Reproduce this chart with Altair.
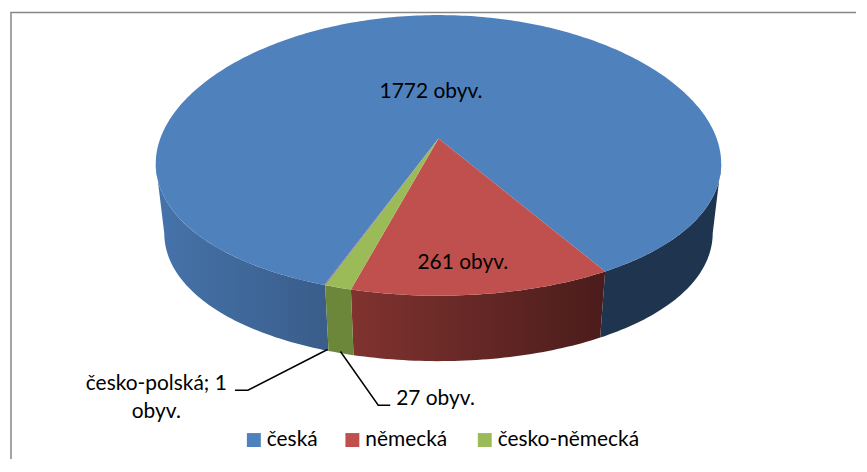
import math
import altair as alt
import pandas as pd

categories = ["česká", "německá", "česko-německá", "česko-polská"]
values = [1772, 261, 27, 1]
colors = ["#4F81BD", "#C0504D", "#9BBB59", "#8064A2"]
legend_items = categories[:3]
legend_sym_x = [253, 352, 485]
legend_txt_x = [266, 365, 498]
FONT = "Lato"
FS = 21

# projection of the tilted disc (page pixels)
CX, CY, A, B, S, SX = 438.5, 137.0, 279.5, 138.9, 0.1206, 0.178
MID_Y, LOW_Y, SHRINK = 154.0, 224.0, 0.97
START = 340.0
EXTREME = 79.7


def top(phi):
    r = math.radians(phi)
    u, v = math.sin(r), math.cos(r)
    return CX + A * u / (1 - SX * v), CY + B * v / (1 - S * v)


def low(phi):
    x, y = top(phi)
    return CX + SHRINK * (x - CX), LOW_Y + SHRINK * (y - MID_Y)


def sweep(a, b):
    n = max(2, int(abs(a - b)) + 2)
    return [a + (b - a) * i / (n - 1) for i in range(n)]


total = sum(values)
bounds = [START]
for val in values:
    bounds.append(bounds[-1] - 360 * val / total)

# top faces
rows = []
for name, a, b in zip(categories, bounds[:-1], bounds[1:]):
    pts = [(CX, CY)] + [top(p) for p in sweep(a, b)]
    for i, (x, y) in enumerate(pts):
        rows.append({"x": x, "y": y, "i": i, "slice": name})
top_df = pd.DataFrame(rows)


def side(a, b):
    arc = sweep(a, b)
    pts = [top(p) for p in arc] + [low(p) for p in reversed(arc)]
    return pd.DataFrame([{"x": x, "y": y, "i": i} for i, (x, y) in enumerate(pts)])


XS = alt.Scale(domain=[8, 859], nice=False, zero=False, padding=0)
YS = alt.Scale(domain=[460, 8], nice=False, zero=False, padding=0)
xs = alt.X("x:Q", axis=None, scale=XS)
ys = alt.Y("y:Q", axis=None, scale=YS)


def grad(c1, c2):
    return alt.Gradient(
        gradient="linear", x1=0, x2=1, y1=0, y2=0,
        stops=[alt.GradientStop(color=c1, offset=0), alt.GradientStop(color=c2, offset=1)],
    )


def side_layer(a, b, fill):
    return alt.Chart(side(a, b)).mark_line(filled=True, fill=fill, stroke=None, strokeWidth=0).encode(
        x=xs, y=ys, order="i:Q"
    )


sides = [
    side_layer(-EXTREME, bounds[3], grad("#4573AA", "#3A5D8A")),
    side_layer(bounds[1], EXTREME, "#1F344E"),
    side_layer(bounds[1], bounds[2], grad("#80332F", "#4A1C1B")),
    side_layer(bounds[2], bounds[3], "#6C863A"),
]

color = alt.Color("slice:N", scale=alt.Scale(domain=categories, range=colors), legend=None)

tops = alt.Chart(top_df).mark_line(filled=True, strokeWidth=0).encode(
    x=xs, y=ys, order="i:Q", color=color
)

legend_df = pd.DataFrame({
    "slice": legend_items, "x": legend_sym_x, "tx": legend_txt_x, "y": [440, 440, 440], "by": [446, 446, 446]
})
legend_sym = alt.Chart(legend_df).mark_square(size=196, opacity=1).encode(x=xs, y=ys, color=color)
legend_txt = alt.Chart(legend_df).mark_text(
    font=FONT, fontSize=FS, color="#000000", baseline="alphabetic", align="left"
).encode(x=alt.X("tx:Q", axis=None, scale=XS), y=alt.Y("by:Q", axis=None, scale=YS), text="slice:N")

label_text = ["1772 obyv.", "261 obyv.", "27 obyv.", "česko-polská; 1", "obyv."]
label_x = [431, 463, 435.5, 155, 155]
label_y = [96, 268, 405, 390, 418]
labels = alt.Chart(pd.DataFrame({"t": label_text, "x": label_x, "y": label_y})).mark_text(
    font=FONT, fontSize=FS, color="#000000", baseline="alphabetic", align="center"
).encode(x=xs, y=ys, text="t:N")

lead = pd.DataFrame({
    "x": [327, 247, 234, 340, 378, 390],
    "y": [349, 390, 390, 351, 405, 405],
    "i": [0, 1, 2, 0, 1, 2],
    "g": ["a", "a", "a", "b", "b", "b"],
})
leaders = alt.Chart(lead).mark_line(color="#000000", strokeWidth=1.5).encode(
    x=xs, y=ys, order="i:Q", detail="g:N"
)

frame = pd.DataFrame({"x": [9, 9, 858], "y": [459, 10.5, 10.5], "i": [0, 1, 2]})
border = alt.Chart(frame).mark_line(color="#868686", strokeWidth=1.5).encode(x=xs, y=ys, order="i:Q")

chart = alt.layer(border, *sides, tops, legend_sym, legend_txt, leaders, labels).properties(
    width=851, height=452, padding=0, background="#FFFFFF"
).configure_view(strokeWidth=0)

chart.save("out.html", embed_options={"renderer": "svg", "actions": False})
